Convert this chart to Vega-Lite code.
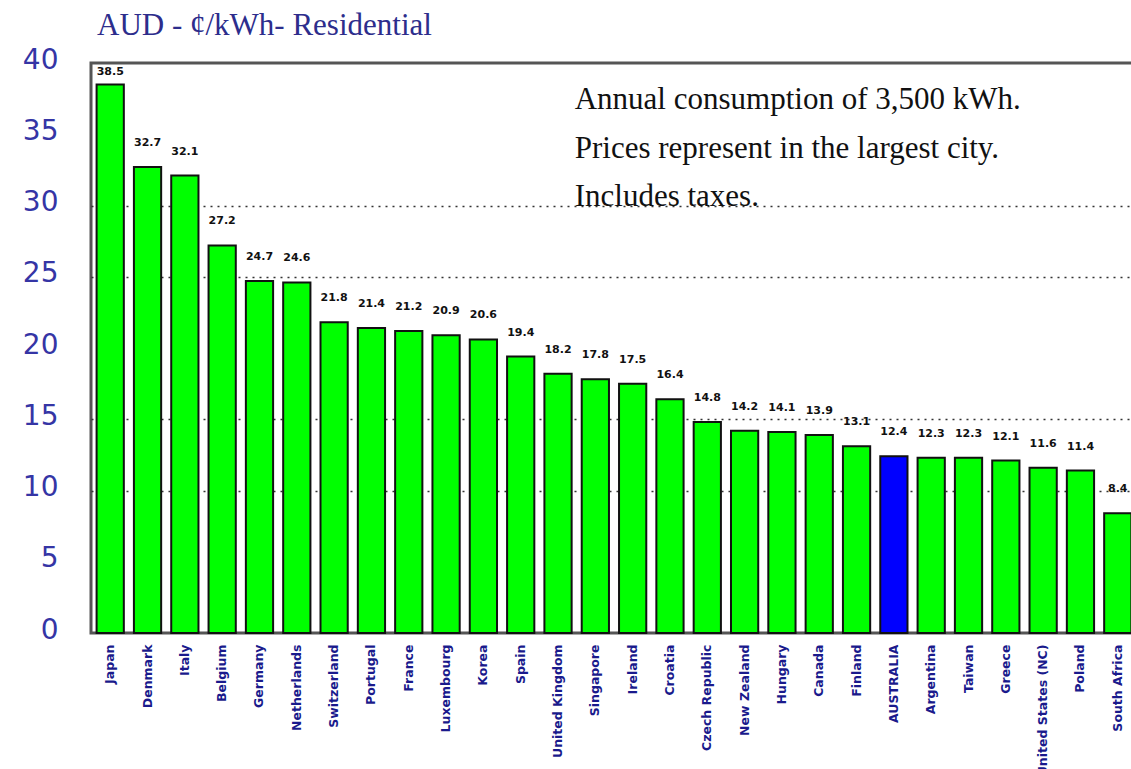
{
  "$schema": "https://vega.github.io/schema/vega-lite/v6.json",
  "width": 1046,
  "height": 570,
  "padding": {"left": 0, "top": 10, "right": 0, "bottom": 0},
  "background": "white",
  "title": {
    "text": "AUD - ¢/kWh- Residential",
    "anchor": "start",
    "frame": "group",
    "dx": 6,
    "font": "Liberation Serif",
    "fontSize": 31,
    "fontWeight": "normal",
    "color": "#2d2d8c",
    "offset": 4
  },
  "config": {
    "view": {"stroke": "#555555", "strokeWidth": 3}
  },
  "data": {
    "values": [
      {"country": "Japan", "price": 38.5},
      {"country": "Denmark", "price": 32.7},
      {"country": "Italy", "price": 32.1},
      {"country": "Belgium", "price": 27.2},
      {"country": "Germany", "price": 24.7},
      {"country": "Netherlands", "price": 24.6},
      {"country": "Switzerland", "price": 21.8},
      {"country": "Portugal", "price": 21.4},
      {"country": "France", "price": 21.2},
      {"country": "Luxembourg", "price": 20.9},
      {"country": "Korea", "price": 20.6},
      {"country": "Spain", "price": 19.4},
      {"country": "United Kingdom", "price": 18.2},
      {"country": "Singapore", "price": 17.8},
      {"country": "Ireland", "price": 17.5},
      {"country": "Croatia", "price": 16.4},
      {"country": "Czech Republic", "price": 14.8},
      {"country": "New Zealand", "price": 14.2},
      {"country": "Hungary", "price": 14.1},
      {"country": "Canada", "price": 13.9},
      {"country": "Finland", "price": 13.1},
      {"country": "AUSTRALIA", "price": 12.4},
      {"country": "Argentina", "price": 12.3},
      {"country": "Taiwan", "price": 12.3},
      {"country": "Greece", "price": 12.1},
      {"country": "United States (NC)", "price": 11.6},
      {"country": "Poland", "price": 11.4},
      {"country": "South Africa", "price": 8.4}
    ]
  },
  "encoding": {
    "x": {
      "field": "country",
      "type": "nominal",
      "sort": null,
      "scale": {"paddingInner": 0.27, "paddingOuter": 0.15},
      "axis": {
        "title": null,
        "labelAngle": -90,
        "labelFont": "DejaVu Sans",
        "labelFontWeight": "bold",
        "labelFontSize": 12.5,
        "labelColor": "#1a1a8c",
        "labelPadding": 11,
        "ticks": false,
        "domain": false,
        "grid": false,
        "labelLimit": 200
      }
    },
    "y": {
      "field": "price",
      "type": "quantitative",
      "scale": {"domain": [0, 40], "nice": false},
      "axis": {
        "title": null,
        "values": [0, 5, 10, 15, 20, 25, 30, 35, 40],
        "labelFont": "DejaVu Sans",
        "labelFontSize": 28,
        "labelColor": "#3535a5",
        "labelPadding": 33,
        "labelOffset": -3,
        "ticks": false,
        "domain": false,
        "grid": true,
        "gridColor": "#333333",
        "gridDash": [2, 5],
        "gridWidth": 1.5,
        "gridOpacity": {
          "condition": {"test": "datum.value === 10 || datum.value === 15 || datum.value === 25 || datum.value === 30", "value": 1},
          "value": 0
        },
        "minExtent": 91,
        "maxExtent": 91
      }
    }
  },
  "layer": [
    {
      "mark": {"type": "bar", "stroke": "#111111", "strokeWidth": 2},
      "encoding": {
        "color": {
          "condition": {"test": "datum.country === 'AUSTRALIA'", "value": "#0000ff"},
          "value": "#00ff00"
        }
      }
    },
    {
      "transform": [{"filter": "datum.price < 38"}],
      "mark": {"type": "text", "baseline": "middle", "dy": -24, "font": "DejaVu Sans", "fontWeight": "bold", "fontSize": 11, "color": "#111111"},
      "encoding": {"text": {"field": "price", "type": "quantitative", "format": ".1f"}}
    },
    {
      "transform": [{"filter": "datum.price >= 38"}],
      "mark": {"type": "text", "baseline": "middle", "dy": -12, "font": "DejaVu Sans", "fontWeight": "bold", "fontSize": 11, "color": "#111111"},
      "encoding": {"text": {"field": "price", "type": "quantitative", "format": ".1f"}}
    },
    {
      "transform": [{"filter": "datum.country === 'Singapore'"}],
      "mark": {
        "type": "text",
        "align": "left",
        "baseline": "middle",
        "dx": -7,
        "font": "Liberation Serif",
        "fontSize": 31,
        "lineHeight": 48.5,
        "color": "#111111",
        "text": ["Annual consumption of 3,500 kWh.", "Prices represent  in the largest city.", "Includes taxes."]
      },
      "encoding": {
        "x": {"field": "country", "type": "nominal", "sort": null, "bandPosition": 0},
        "y": {"datum": 37.4}
      }
    }
  ]
}
